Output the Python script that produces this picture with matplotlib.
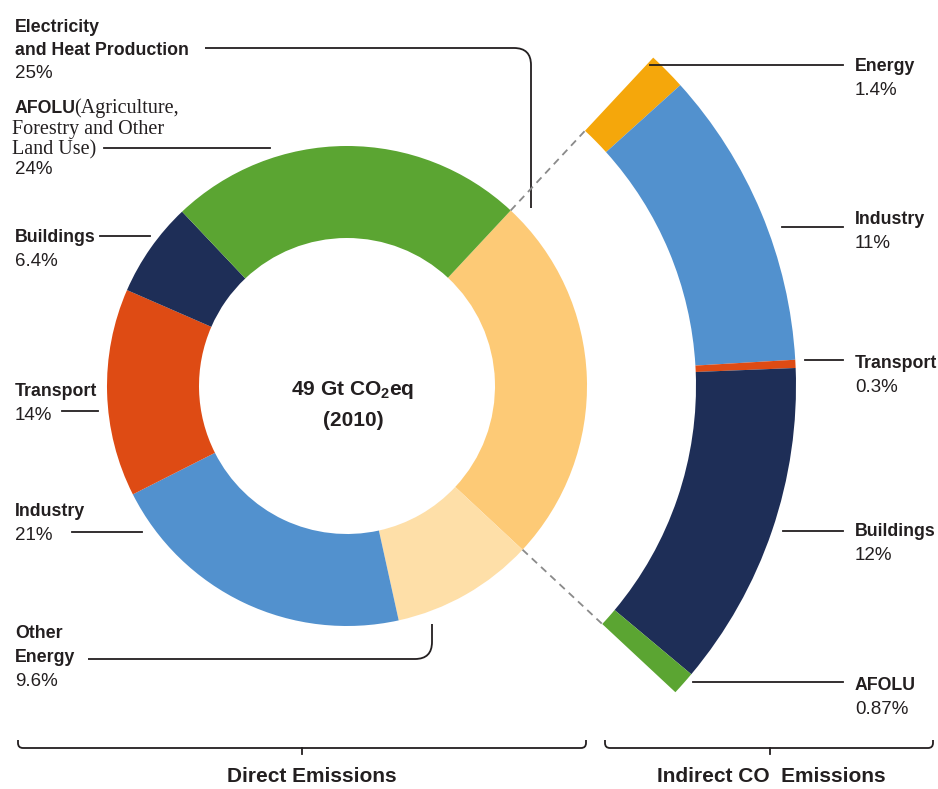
import numpy as np
import matplotlib
matplotlib.use('Agg')
import matplotlib.pyplot as plt
from matplotlib.path import Path
from matplotlib.patches import PathPatch

plt.rcParams['font.family'] = ['Liberation Sans', 'DejaVu Sans']
plt.rcParams['mathtext.fontset'] = 'custom'
plt.rcParams['mathtext.bf'] = 'Liberation Sans:bold'
plt.rcParams['mathtext.rm'] = 'Liberation Sans'

# direct emissions (inner donut), clockwise from the top-right
direct_names = ['Electricity\nand Heat Production', 'Other\nEnergy', 'Industry',
                'Transport', 'Buildings', 'AFOLU']
direct_values = [25, 9.6, 21, 14, 6.4, 24]
direct_pct = ['25%', '9.6%', '21%', '14%', '6.4%', '24%']
direct_colors = ['#FDCA76', '#FEDFA8', '#5291CE', '#DE4B14', '#1E2E57', '#5BA532']

# indirect CO2 emissions (outer arc), split of electricity and heat
indirect_names = ['Energy', 'Industry', 'Transport', 'Buildings', 'AFOLU']
indirect_values = [1.4, 11, 0.3, 12, 0.87]
indirect_pct = ['1.4%', '11%', '0.3%', '12%', '0.87%']
indirect_colors = ['#F5A70B', '#5291CE', '#DE4B14', '#1E2E57', '#5BA532']

W, H = 938, 789
cx, cy = 347, 386
ink = '#231F20'

fig = plt.figure(figsize=(W / 100, H / 100), dpi=100)
ax = fig.add_axes([0, 0, 1, 1])

# axes run in pixel units with y pointing down, so pies go "counterclock"
# in data space to look clockwise on screen
wedges, _ = ax.pie(direct_values, colors=direct_colors, radius=240,
                   center=(cx, cy), startangle=-47, counterclock=True,
                   wedgeprops=dict(width=92, linewidth=0))

span = direct_values[0] / sum(direct_values)
rest = sum(indirect_values) * (1 - span) / span
arc, _ = ax.pie(indirect_values + [rest], colors=indirect_colors + ['none'],
                radius=449, center=(cx, cy), startangle=-47, counterclock=True,
                wedgeprops=dict(width=100, linewidth=0))

ax.set_xlim(0, W)
ax.set_ylim(H, 0)
ax.set_aspect('equal')
ax.axis('off')

# dashed guides from the electricity wedge to the indirect arc
for ang in (wedges[0].theta1, wedges[0].theta2):
    t = np.deg2rad(ang)
    ax.plot([cx + 240 * np.cos(t), cx + 349 * np.cos(t)],
            [cy + 240 * np.sin(t), cy + 349 * np.sin(t)],
            color='#8A8A8A', lw=1.3, ls=(0, (4, 3)))


def rounded_line(pts, r, lw=1.3):
    verts = [pts[0]]
    codes = [Path.MOVETO]
    for i in range(1, len(pts) - 1):
        p = np.array(pts[i], float)
        u1 = p - np.array(pts[i - 1], float)
        u2 = np.array(pts[i + 1], float) - p
        u1 /= np.linalg.norm(u1)
        u2 /= np.linalg.norm(u2)
        verts += [tuple(p - u1 * r), tuple(p), tuple(p + u2 * r)]
        codes += [Path.LINETO, Path.CURVE3, Path.CURVE3]
    verts.append(pts[-1])
    codes.append(Path.LINETO)
    ax.add_patch(PathPatch(Path(verts, codes), fill=False, ec=ink, lw=lw))


def line(x0, x1, y):
    ax.plot([x0, x1], [y, y], color=ink, lw=1.3)


def label(x, y, name, pct, gap=24):
    lines = name.split('\n')
    for i, s in enumerate(lines):
        ax.text(x, y + i * gap, s, fontsize=12.8, fontweight='bold', color=ink,
                va='baseline', ha='left')
    ax.text(x, y + len(lines) * gap, pct, fontsize=13.5, color=ink,
            va='baseline', ha='left')


# left labels
label(15, 32, direct_names[0], direct_pct[0], gap=23)
rounded_line([(205, 48), (531, 48), (531, 208)], 17)

ax.text(15, 113, 'AFOLU', fontsize=12.8, fontweight='bold', color=ink, va='baseline')
serif = ['Liberation Serif', 'DejaVu Serif']
ax.text(74, 113, '(Agriculture,', fontsize=14.5, family=serif, color=ink, va='baseline')
ax.text(12, 134, 'Forestry and Other', fontsize=14.5, family=serif, color=ink, va='baseline')
ax.text(12, 154, 'Land Use)', fontsize=14.5, family=serif, color=ink, va='baseline')
ax.text(15, 174, direct_pct[5], fontsize=13.5, color=ink, va='baseline')
line(104, 270, 148)

label(15, 242, direct_names[4], direct_pct[4])
line(100, 150, 236)

label(15, 396, direct_names[3], direct_pct[3])
line(62, 98, 411)

label(15, 516, direct_names[2], direct_pct[2])
line(72, 142, 532)

label(15, 638, direct_names[1], direct_pct[1], gap=24)
rounded_line([(88, 659), (432, 659), (432, 624)], 17)

# right labels
rx = 855
right_y = [71, 224, 368, 536, 690]
right_lines = [(650, 65), (782, 227), (805, 360), (783, 531), (693, 682)]
for name, pct, y, (x0, ly) in zip(indirect_names, indirect_pct, right_y, right_lines):
    label(rx, y, name, pct)
    line(x0, 843, ly)

# centre text
ax.text(cx + 6, 390, r'49 Gt CO$_\mathbf{2}$eq', fontsize=15, fontweight='bold',
        color=ink, ha='center', va='center')
ax.text(cx + 6, 420, '(2010)', fontsize=15, fontweight='bold', color=ink,
        ha='center', va='center')

# brackets at the bottom
rounded_line([(18, 740), (18, 748), (586, 748), (586, 740)], 5)
ax.plot([302, 302], [748, 754], color=ink, lw=1.3)
rounded_line([(605, 740), (605, 748), (933, 748), (933, 740)], 5)
ax.plot([770, 770], [748, 754], color=ink, lw=1.3)

ax.text(312, 777, 'Direct Emissions', fontsize=15, fontweight='bold', color=ink,
        ha='center', va='center')
ax.text(771, 777, 'Indirect CO  Emissions', fontsize=15, fontweight='bold',
        color=ink, ha='center', va='center')

fig.savefig('out.png', dpi=100)
